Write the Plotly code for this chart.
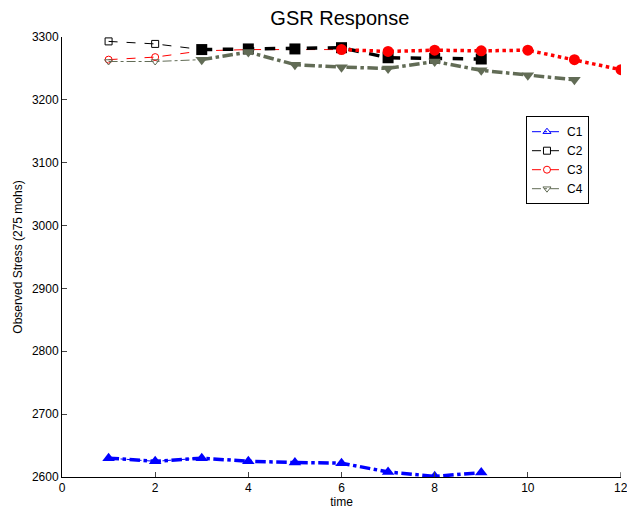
import plotly.graph_objects as go

time = [1, 2, 3, 4, 5, 6, 7, 8, 9, 10, 11, 12]
c1 = [2630, 2625, 2630, 2625, 2623, 2622, 2608, 2601, 2607]
c2 = [3293, 3289, 3280, 3281, 3281, 3283, 3267, 3266, 3265]
c3 = [3264, 3268, 3278, 3280, 3280, 3280, 3277, 3279, 3278, 3279, 3264, 3248]
c4 = [3261, 3261, 3264, 3276, 3256, 3252, 3250, 3261, 3247, 3239, 3232]
x_ticks = [0, 2, 4, 6, 8, 10, 12]
y_ticks = [2600, 2700, 2800, 2900, 3000, 3100, 3200, 3300]

names = ["C1", "C2", "C3", "C4"]
series = [c1, c2, c3, c4]
colors = ["rgb(0,0,255)", "rgb(0,0,0)", "rgb(255,0,0)", "rgb(98,108,86)"]
dashes = ["dashdot", "dash", "dash", "dashdot"]
thick_dashes = ["dashdot", "dash", "dot", "dashdot"]
symbols = ["triangle-up", "square", "circle", "triangle-down"]
thin_end = [3, 3, 6, 3]
thick_start = [0, 2, 5, 2]

fig = go.Figure()

# thin segments with hollow markers (legend entries)
for n, s, col, d, sym, te in zip(names, series, colors, dashes, symbols, thin_end):
    fig.add_trace(go.Scatter(
        x=time[:te], y=s[:te], name=n, mode="lines+markers",
        line=dict(color=col, width=1, dash=d),
        marker=dict(symbol=sym + "-open", size=7, color=col, line=dict(width=1, color=col)),
    ))

# thick segments with filled markers
for n, s, col, d, sym, st in zip(names, series, colors, thick_dashes, symbols, thick_start):
    fig.add_trace(go.Scatter(
        x=time[st:len(s)], y=s[st:], name=n, mode="lines+markers", showlegend=False,
        line=dict(color=col, width=3.5, dash=d),
        marker=dict(symbol=sym, size=11, color=col),
    ))

fig.update_layout(
    width=627, height=512,
    margin=dict(l=62, r=6, t=37, b=35),
    paper_bgcolor="white", plot_bgcolor="white",
    font=dict(family="Liberation Sans, Arial, sans-serif", size=12, color="black"),
    title=dict(text="GSR Response", x=0.542, xanchor="center", y=0.978, yanchor="top",
               font=dict(size=20, color="black")),
    xaxis=dict(range=[0, 12], tickvals=x_ticks[:-1], ticks="inside", ticklen=5,
               showline=True, linecolor="black", linewidth=1, showgrid=False, zeroline=False,
               title=dict(text="time", standoff=2, font=dict(size=12))),
    yaxis=dict(range=[2600, 3300], tickvals=y_ticks, ticks="inside", ticklen=5,
               showline=True, linecolor="black", linewidth=1, showgrid=False, zeroline=False,
               title=dict(text="Observed Stress (275 mohs)", standoff=6, font=dict(size=12))),
    legend=dict(x=0.83, y=0.82, xanchor="left", yanchor="top", bordercolor="black", borderwidth=1,
                bgcolor="white", font=dict(size=12), tracegroupgap=0, itemwidth=30),
)

# last x tick label (would be clipped by the figure edge otherwise)
fig.add_annotation(x=x_ticks[-1], y=0, xref="x", yref="paper", yanchor="top", xanchor="center",
                   yshift=-2, text=str(x_ticks[-1]), showarrow=False, font=dict(size=12))
fig.add_shape(type="line", xref="x", yref="paper", x0=x_ticks[-1], x1=x_ticks[-1], y0=0, y1=0.011,
              line=dict(color="black", width=1))

fig.write_html("out.html")
